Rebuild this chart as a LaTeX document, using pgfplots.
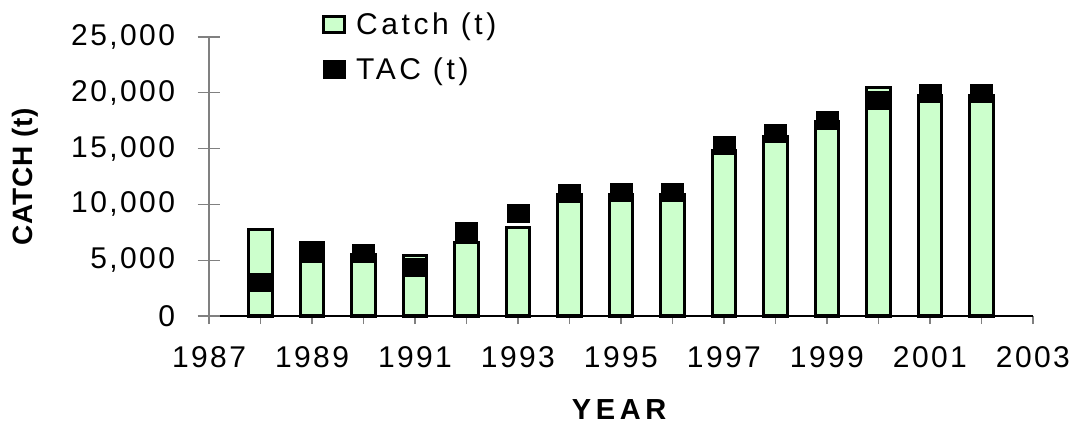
\documentclass[border=0pt]{standalone}
\usepackage{fontspec}
\setmainfont{Liberation Sans}[LetterSpace=8]
\usepackage{pgfplots}
\pgfplotsset{compat=1.18}
\definecolor{catchgreen}{HTML}{CCFFCC}
\newcommand{\cf}{\fontsize{30bp}{35bp}\selectfont}
\pgfplotstableread{
year catch tac
1988 7750 3000
1989 6600 5600
1990 5550 5600
1991 5400 4400
1992 6550 7600
1993 7950 9200
1994 10900 11000
1995 10900 11100
1996 10900 11100
1997 14800 15300
1998 16100 16400
1999 17400 17500
2000 20500 19300
2001 19800 20000
2002 19800 20000
}\datatable
\begin{document}
\begin{tikzpicture}
\useasboundingbox (0,0) rectangle (1074bp,421bp);
\begin{axis}[
  at={(209bp,105bp)}, anchor=south west,
  scale only axis, width=824bp, height=279bp,
  xmin=1987, xmax=2003, ymin=0, ymax=25000,
  axis lines*=left, axis line style={-},
  x axis line style={black, line width=1.2bp},
  y axis line style={gray, line width=1.2bp},
  xtick={1987,...,2003},
  xticklabels={1987,,1989,,1991,,1993,,1995,,1997,,1999,,2001,,2003},
  ytick=\empty,
  extra y ticks={0,5000,10000,15000,20000,25000},
  extra y tick labels={0,{5,000},{10,000},{15,000},{20,000},{25,000}},
  extra y tick style={major tick length=23bp, tick align=center, tick style={gray, line width=1.2bp}},
  major tick length=8bp,
  xtick align=outside,
  x tick style={gray, line width=1.2bp},
  /pgf/number format/assume math mode=true,
  tick label style={font=\cf},
  xticklabel style={anchor=north, yshift=-19bp},
  yticklabel style={anchor=east, xshift=-19bp},
  xlabel={YEAR},
  ylabel={CATCH (t)},
  xlabel style={font=\fontsize{29bp}{34bp}\selectfont\bfseries\addfontfeature{LetterSpace=16},
    at={(axis description cs:0.4976,0)}, anchor=base, yshift=-103bp},
  ylabel style={font=\fontsize{28bp}{33bp}\selectfont\bfseries\addfontfeature{LetterSpace=3},
    at={(axis description cs:-0.2233,0.5)}, anchor=center},
  legend style={at={(axis description cs:0.137,1.09)}, anchor=north west, draw=none, fill=none,
    font=\cf\addfontfeature{LetterSpace=12}, row sep=19bp, inner sep=0pt, nodes={inner sep=1bp}},
  legend cell align=left,
  clip=false,
]
\addplot[ybar, bar width=0.46, fill=catchgreen, draw=black, line width=3bp,
  legend image code/.code={\draw[fill=catchgreen, draw=black, line width=3bp] (0bp,-8bp) rectangle (21bp,8bp); \path (30bp,0bp);}]
  table[x=year, y=catch] {\datatable};
\addlegendentry{Catch (t)}
\addplot[only marks, mark=square*, mark size=9bp, mark options={xscale=1.22, fill=black, draw=black},
  legend image code/.code={\fill[black] (0bp,-9bp) rectangle (22bp,9bp); \path (30bp,0bp);}]
  table[x=year, y=tac] {\datatable};
\addlegendentry{TAC (t)}
\end{axis}
\end{tikzpicture}
\end{document}
